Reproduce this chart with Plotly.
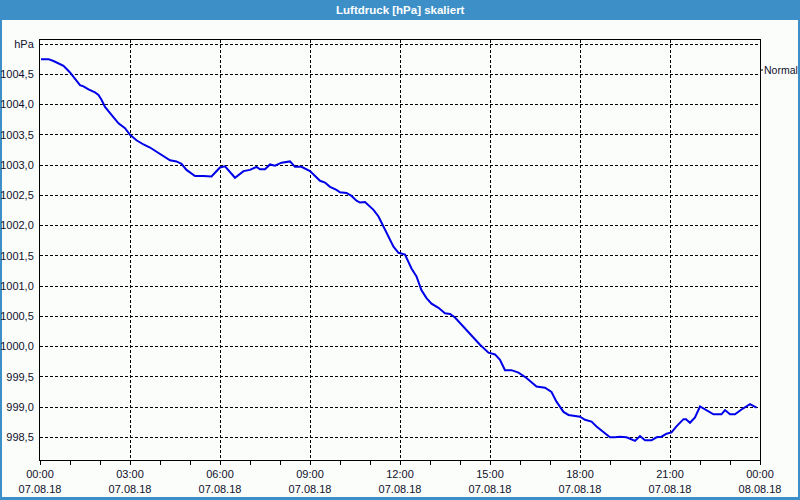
import plotly.graph_objects as go

times = ["00:02","00:17","00:27","00:40","00:47","01:00","01:10","01:20","01:27","01:37",
         "01:50","01:57","02:03","02:10","02:23","02:37","02:50","03:00","03:13","03:27",
         "03:40","03:53","04:07","04:20","04:33","04:43","04:53","05:10","05:27","05:43",
         "06:00","06:10","06:30","06:47","07:00","07:13","07:20","07:30","07:40","07:50",
         "08:03","08:20","08:30","08:43","09:00","09:20","09:30","09:40","09:53","10:00",
         "10:13","10:23","10:33","10:40","10:50","10:57","11:07","11:17","11:27","11:37",
         "11:47","11:57","12:10","12:23","12:33","12:43","12:53","13:03","13:17","13:30",
         "13:40","13:50","14:07","14:23","14:40","14:57","15:10","15:20","15:30","15:43",
         "15:57","16:13","16:33","16:50","17:03","17:13","17:27","17:37","17:50","18:00",
         "18:10","18:23","18:33","18:47","19:00","19:10","19:20","19:33","19:43","19:50",
         "20:00","20:10","20:23","20:33","20:43","20:53","21:03","21:13","21:27","21:32",
         "21:40","21:50","22:00","22:13","22:27","22:43","22:50","23:00","23:10","23:23",
         "23:40","23:53"]
pressure = [1004.75,1004.75,1004.72,1004.67,1004.64,1004.53,1004.43,1004.32,1004.30,1004.25,
            1004.20,1004.16,1004.08,1003.96,1003.83,1003.69,1003.61,1003.50,1003.41,1003.34,
            1003.29,1003.22,1003.14,1003.08,1003.06,1003.02,1002.92,1002.82,1002.82,1002.81,
            1002.96,1002.98,1002.79,1002.90,1002.92,1002.97,1002.93,1002.93,1003.01,1002.99,
            1003.04,1003.06,1002.97,1002.97,1002.90,1002.74,1002.71,1002.64,1002.59,1002.55,
            1002.54,1002.49,1002.41,1002.38,1002.39,1002.34,1002.26,1002.15,1001.98,1001.82,
            1001.65,1001.55,1001.52,1001.29,1001.16,1000.93,1000.80,1000.71,1000.64,1000.55,
            1000.54,1000.48,1000.33,1000.19,1000.03,999.90,999.87,999.78,999.61,999.61,
            999.57,999.48,999.34,999.32,999.25,999.09,998.92,998.87,998.86,998.84,
            998.79,998.76,998.68,998.59,998.50,998.50,998.51,998.50,998.47,998.44,
            998.52,998.45,998.45,998.50,998.51,998.56,998.58,998.68,998.80,998.80,
            998.74,998.83,999.01,998.95,998.88,998.88,998.95,998.88,998.88,998.96,
            999.05,998.99]
x_vals = ["2018-08-07 " + t for t in times]

x_tick_vals = ["2018-08-07 00:00", "2018-08-07 03:00", "2018-08-07 06:00", "2018-08-07 09:00",
               "2018-08-07 12:00", "2018-08-07 15:00", "2018-08-07 18:00", "2018-08-07 21:00",
               "2018-08-08 00:00"]
x_tick_text = ["00:00<br>07.08.18", "03:00<br>07.08.18", "06:00<br>07.08.18", "09:00<br>07.08.18",
               "12:00<br>07.08.18", "15:00<br>07.08.18", "18:00<br>07.08.18", "21:00<br>07.08.18",
               "00:00<br>08.08.18"]
y_tick_vals = [998.5, 999.0, 999.5, 1000.0, 1000.5, 1001.0, 1001.5, 1002.0, 1002.5,
               1003.0, 1003.5, 1004.0, 1004.5, 1005.0]
y_tick_text = ["998,5", "999,0", "999,5", "1000,0", "1000,5", "1001,0", "1001,5", "1002,0",
               "1002,5", "1003,0", "1003,5", "1004,0", "1004,5", "hPa"]

title_text = "Luftdruck [hPa] skaliert"
legend_text = "Normal"

BLUE_BAR = "#3d8fc7"
BG = "#fbfdfb"
TXT = "#10102a"
FONT = "Liberation Sans"

fig = go.Figure()
fig.add_trace(go.Scatter(x=x_vals, y=pressure, mode="lines",
                         line=dict(color="#0000e8", width=2), hoverinfo="skip",
                         showlegend=False))

fig.update_layout(
    width=800, height=500,
    margin=dict(l=40, r=40, t=40, b=40, autoexpand=False),
    paper_bgcolor=BLUE_BAR,
    plot_bgcolor=BG,
    font=dict(family=FONT, size=11, color=TXT),
    showlegend=False,
    xaxis=dict(
        type="date",
        range=["2018-08-07 00:00", "2018-08-08 00:00"],
        tickmode="array", tickvals=x_tick_vals, ticktext=x_tick_text,
        ticks="outside", ticklen=4, tickcolor="black", tickwidth=1,
        minor=dict(dtick=3600000, tick0="2018-08-07 00:00", ticks="outside",
                   ticklen=4, tickcolor="black", showgrid=False),
        showgrid=True, gridcolor="black", griddash="3px,2px", gridwidth=1,
        showline=True, linecolor="black", linewidth=1, mirror=True,
        zeroline=False, tickfont=dict(family=FONT, size=11, color=TXT),
        automargin=False, fixedrange=True,
    ),
    yaxis=dict(
        range=[998.125, 1005.067],
        tickmode="array", tickvals=y_tick_vals, ticktext=y_tick_text,
        ticks="", showgrid=True, gridcolor="black", griddash="3px,2px", gridwidth=1,
        showline=True, linecolor="black", linewidth=1, mirror=True,
        zeroline=False, tickfont=dict(family=FONT, size=11, color=TXT),
        ticklabelstandoff=3, automargin=False,
    ),
    shapes=[
        dict(type="rect", xref="paper", yref="paper", layer="below",
             x0=-38/720, x1=1 + 38/720, y0=-37/420, y1=(460 - 20) / 420,
             fillcolor=BG, line=dict(width=0)),
        dict(type="line", xref="paper", yref="paper",
             x0=1, x1=1 + 3/720, y0=(460 - 70) / 420, y1=(460 - 70) / 420,
             line=dict(color="black", width=1)),
    ],
    annotations=[
        dict(text="<b>" + title_text + "</b>", xref="paper", yref="paper",
             x=0.5, y=(460 - 10) / 420, xanchor="center", yanchor="middle",
             showarrow=False, font=dict(family=FONT, size=11.5, color="white")),
        dict(text=legend_text, xref="paper", yref="paper",
             x=1 + 3/720, y=(460 - 70) / 420, xanchor="left", yanchor="middle",
             showarrow=False, borderpad=0, font=dict(family=FONT, size=10.5, color=TXT)),
    ],
)

fig.write_html("out.html")
